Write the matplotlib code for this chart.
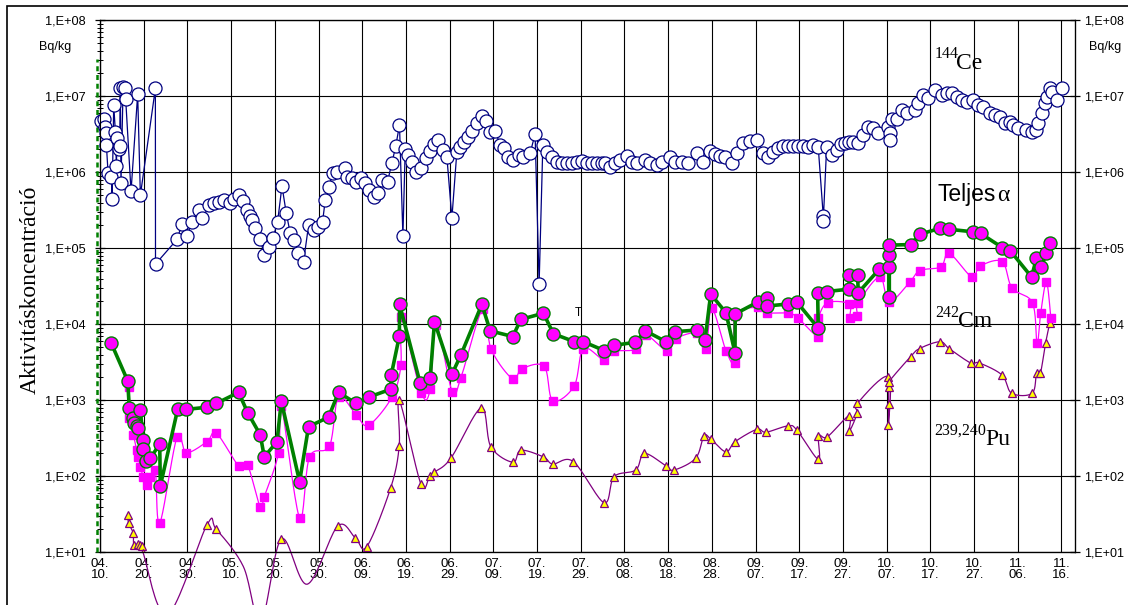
import numpy as np
import matplotlib
matplotlib.use("Agg")
import matplotlib.pyplot as plt
from matplotlib.ticker import FixedLocator, FixedFormatter, LogLocator, NullFormatter, NullLocator
from matplotlib.patches import Rectangle

# ---------------- data (days since 04.10, Bq/kg) ----------------
ce_day = [0.32, 0.85, 1.08, 1.30, 1.46, 1.85, 2.60, 2.77, 3.14, 3.52, 3.75, 3.90, 4.28, 4.50,
          4.66, 4.80, 5.29, 5.81, 5.88, 7.10, 8.62, 9.24, 12.67, 12.70,
          17.63, 18.77, 19.92, 21.06, 22.57, 23.35, 24.86, 26.0, 27.14, 28.29, 29.82, 30.57,
          31.72, 32.72, 33.64, 34.39, 34.78, 35.54, 36.68, 37.59, 38.58, 39.58, 40.64, 41.64,
          42.62, 43.54, 44.45, 45.21, 46.58, 47.72, 48.87, 49.78, 50.93, 51.54, 52.46, 53.21,
          54.22, 56.12, 56.5, 57.65, 58.63, 59.71, 60.69, 61.45, 62.59, 63.5, 64.51, 65.79,
          66.8, 67.67, 68.53, 69.31, 69.84, 70.59, 71.37, 72.35, 73.5, 74.57, 75.55, 76.47,
          77.45, 78.46, 79.37, 80.52, 81.66, 82.42, 83.33, 84.31, 85.23, 86.23, 87.38, 88.29,
          89.28, 90.42, 91.56, 92.48, 93.46, 94.6, 95.9, 96.89, 98.42, 99.56, 100.48, 101.33,
          102.24, 103.38, 104.53, 105.67, 106.81, 107.96, 109.1, 110.24, 111.39, 112.53,
          113.67, 114.82, 115.57, 116.71, 117.86, 119.0, 120.53, 121.68, 122.82, 124.72,
          125.86, 127.39, 128.54, 130.44, 131.58, 133.11, 134.62, 136.54, 138.05, 139.58,
          140.73, 141.87, 143.02, 144.55, 145.69, 147.2, 148.73, 150.4, 151.77, 152.91,
          154.06, 155.2, 156.35, 157.49, 158.63, 159.78, 160.92, 162.06, 163.21, 164.35,
          165.49, 165.5, 166.27, 167.41, 168.56, 169.54, 170.45, 171.44, 172.35, 173.5,
          174.64, 175.78, 176.93, 178.07, 180.35, 180.74, 180.75, 181.13, 182.28, 183.42,
          184.56, 186.46, 187.22, 188.36, 189.51, 191.04, 192.57, 193.71, 194.86, 196.0,
          197.14, 198.29, 199.8, 200.94, 202.08, 203.62, 204.76, 205.9, 207.05, 208.19,
          208.94, 210.09, 212.0, 213.15, 214.29, 214.66, 215.44, 216.2, 216.59, 217.34,
          217.73, 218.87, 220.02]
ce_val = [4.8e6, 5.1e6, 4.0e6, 3.3e6, 2.3e6, 9.7e5, 8.8e5, 4.5e5, 7.7e6, 3.4e6, 1.2e6, 2.8e6, 2.0e6, 2.2e6,
          1.27e7, 7.2e5, 1.31e7, 1.27e7, 9.1e6, 5.6e5, 1.06e7, 5.0e5, 1.27e7, 6.2e4,
          1.31e5, 2.1e5, 1.47e5, 2.24e5, 3.2e5, 2.5e5, 3.7e5, 3.9e5, 4.1e5, 4.3e5, 4.0e5, 4.5e5,
          5.0e5, 4.2e5, 3.2e5, 2.7e5, 2.36e5, 1.83e5, 1.31e5, 8.2e4, 1.05e5, 1.36e5, 2.24e5, 6.6e5,
          2.9e5, 1.57e5, 1.29e5, 8.6e4, 6.7e4, 2.0e5, 1.74e5, 1.92e5, 2.24e5, 4.3e5, 6.5e5, 9.9e5,
          1.02e6, 1.13e6, 8.8e5, 8.3e5, 7.5e5, 8.3e5, 7.2e5, 5.8e5, 4.8e5, 5.3e5, 7.9e5, 7.5e5,
          1.34e6, 2.2e6, 4.2e6, 1.45e5, 2.0e6, 1.7e6, 1.38e6, 1.02e6, 1.13e6, 1.53e6, 1.92e6, 2.36e6,
          2.7e6, 1.96e6, 1.6e6, 2.5e5, 1.87e6, 2.17e6, 2.53e6, 2.94e6, 3.5e6, 4.5e6, 5.5e6, 4.8e6,
          3.4e6, 3.5e6, 2.3e6, 2.07e6, 1.6e6, 1.45e6, 1.69e6, 1.6e6, 1.78e6, 3.2e6, 3.4e4, 2.3e6,
          1.87e6, 1.57e6, 1.38e6, 1.31e6, 1.31e6, 1.34e6, 1.38e6, 1.42e6, 1.34e6, 1.31e6,
          1.34e6, 1.34e6, 1.31e6, 1.19e6, 1.31e6, 1.45e6, 1.64e6, 1.38e6, 1.31e6, 1.45e6,
          1.31e6, 1.25e6, 1.38e6, 1.57e6, 1.38e6, 1.38e6, 1.34e6, 1.78e6, 1.38e6, 1.92e6,
          1.74e6, 1.64e6, 1.57e6, 1.34e6, 1.81e6, 2.41e6, 2.6e6, 2.7e6, 1.78e6, 1.57e6,
          1.87e6, 2.07e6, 2.2e6, 2.2e6, 2.2e6, 2.2e6, 2.2e6, 2.13e6, 2.3e6, 2.13e6,
          2.7e5, 2.3e5, 2.17e6, 1.69e6, 1.96e6, 2.36e6, 2.45e6, 2.53e6, 2.5e6, 2.41e6,
          3.1e6, 3.9e6, 3.8e6, 3.26e6, 4.0e6, 3.26e6, 2.7e6, 5.1e6, 5.1e6, 6.6e6,
          6.0e6, 6.6e6, 8.1e6, 1.04e7, 9.4e6, 1.21e7, 1.04e7, 1.09e7, 1.09e7, 9.9e6,
          8.9e6, 8.5e6, 8.9e6, 7.7e6, 7.3e6, 6.0e6, 5.7e6, 5.4e6, 4.4e6, 4.6e6,
          4.2e6, 3.8e6, 3.6e6, 3.4e6, 3.6e6, 4.4e6, 6.0e6, 8.1e6, 9.9e6, 1.27e7,
          1.15e7, 8.9e6, 1.27e7]

alpha_day = [2.54, 6.34, 6.7, 7.48, 7.87, 8.4, 8.71, 9.24, 9.86, 9.95, 10.61, 11.53, 13.66, 13.81,
             17.77, 19.76, 24.49, 26.62, 31.72, 33.78, 36.68, 37.59, 40.5, 41.49, 45.67, 47.72,
             52.3, 54.58, 58.63, 61.45, 66.57, 66.64, 68.5, 68.55, 73.27, 75.55, 76.54, 80.52,
             82.58, 87.38, 89.28, 94.46, 96.29, 101.47, 103.75, 108.56, 110.61, 115.41, 117.7,
             122.5, 124.79, 129.52, 131.58, 136.54, 138.44, 139.74, 143.24, 145.3, 145.35,
             150.63, 152.55, 152.6, 157.49, 159.4, 164.35, 164.21, 166.27, 171.44, 171.45,
             173.36, 173.5, 178.3, 180.58, 180.6, 180.62, 180.65, 185.48, 187.6, 192.18,
             194.3, 199.65, 201.48, 206.5, 208.34, 213.15, 214.29, 215.43, 216.42, 217.34]
alpha_val = [5.7e3, 1.8e3, 8.0e2, 5.8e2, 5.1e2, 4.6e2, 4.3e2, 7.4e2, 3.0e2, 2.3e2, 1.6e2, 1.73e2, 2.66e2, 7.5e1,
             7.6e2, 7.6e2, 8.1e2, 9.1e2, 1.27e3, 6.9e2, 3.5e2, 1.8e2, 2.85e2, 9.8e2, 8.5e1, 4.5e2,
             6.0e2, 1.27e3, 9.1e2, 1.1e3, 1.4e3, 2.15e3, 7.0e3, 1.83e4, 1.67e3, 1.95e3, 1.08e4, 2.2e3,
             3.95e3, 1.83e4, 8.2e3, 6.9e3, 1.16e4, 1.4e4, 7.5e3, 5.9e3, 5.9e3, 4.5e3, 5.3e3,
             5.8e3, 8.2e3, 5.9e3, 8.0e3, 8.4e3, 6.2e3, 2.5e4, 1.42e4, 4.2e3, 1.37e4,
             1.98e4, 2.2e4, 1.74e4, 1.85e4, 1.98e4, 8.9e3, 2.6e4, 2.7e4, 2.9e4, 4.4e4,
             4.4e4, 2.6e4, 5.3e4, 5.7e4, 2.3e4, 8.2e4, 1.1e5, 1.12e5, 1.53e5, 1.83e5,
             1.78e5, 1.65e5, 1.57e5, 1.02e5, 9.2e4, 4.2e4, 7.4e4, 5.6e4, 8.6e4, 1.16e5]

cm_day = [6.6, 6.75, 7.64, 8.41, 8.71, 9.24, 9.86, 10.77, 11.53, 12.67, 13.66, 17.63, 19.76,
          24.49, 26.62, 31.72, 33.78, 36.68, 37.59, 40.87, 41.49, 45.67, 47.95, 52.5, 54.58,
          58.63, 61.45, 66.8, 68.85, 68.9, 73.5, 75.55, 76.93, 80.59, 82.58, 87.6, 89.5, 94.46,
          96.52, 101.63, 103.6, 108.5, 110.61, 115.34, 117.63, 122.66, 124.94, 129.68, 131.81,
          136.54, 138.67, 139.97, 143.24, 145.3, 145.35, 150.63, 152.55, 157.49, 159.62,
          164.35, 164.4, 166.48, 171.44, 171.6, 173.27, 173.5, 178.4, 180.58, 185.3, 187.6,
          192.4, 194.3, 199.57, 201.3, 206.4, 208.7, 213.37, 214.42, 215.27, 216.57, 217.57]
cm_val = [1.5e3, 5.8e2, 3.5e2, 2.2e2, 1.8e2, 1.34e2, 9.9e1, 7.7e1, 9.9e1, 1.2e2, 2.4e1, 3.3e2, 2.05e2,
          2.85e2, 3.7e2, 1.37e2, 1.4e2, 3.9e1, 5.4e1, 2.05e2, 8.4e2, 2.85e1, 1.8e2, 2.5e2, 1.1e3,
          6.4e2, 4.7e2, 1.1e3, 2.9e3, 1.26e4, 1.26e3, 1.4e3, 9.8e3, 1.3e3, 1.98e3, 1.6e4, 4.7e3, 1.9e3,
          2.6e3, 2.8e3, 9.9e2, 1.54e3, 4.8e3, 3.4e3, 4.4e3, 4.7e3, 7.2e3, 4.5e3, 6.5e3,
          7.6e3, 4.8e3, 1.63e4, 4.5e3, 3.1e3, 1.3e4, 1.67e4, 1.42e4, 1.4e4, 1.22e4,
          6.9e3, 1.2e4, 1.92e4, 1.85e4, 1.2e4, 1.29e4, 1.9e4, 4.2e4, 1.98e4, 3.6e4, 5.1e4,
          5.7e4, 8.6e4, 4.15e4, 5.8e4, 6.7e4, 3.0e4, 1.92e4, 5.6e3, 1.42e4, 3.6e4, 1.22e4]

pu_day = [6.34, 6.56, 7.57, 7.73, 8.62, 9.08, 9.63, 9.86, 15.4, 24.49, 26.62, 32.8, 36.8, 41.49,
          47.4, 54.35, 58.4, 61.07, 66.5, 68.47, 68.5, 73.43, 75.4, 76.47, 80.29, 87.2, 89.43,
          94.46, 96.29, 101.47, 103.6, 108.33, 115.34, 117.63, 122.59, 124.56, 129.45, 131.35,
          136.3, 138.2, 139.74, 143.2, 145.3, 150.3, 152.4, 157.36, 159.4, 164.35, 164.4, 166.4,
          171.44, 171.5, 173.27, 173.3, 180.35, 180.4, 180.45, 180.5, 180.55, 185.48, 187.55,
          192.18, 194.3, 199.2, 201.2, 206.4, 208.6, 213.3, 214.3, 215.2, 216.35, 217.34]
pu_val = [3.1e1, 2.4e1, 1.8e1, 1.25e1, 1.3e1, 1.25e1, 1.22e1, 9.9, 1.5, 2.3e1, 2.0e1, 6.5, 1.2, 1.5e1,
          3.8, 2.2e1, 1.56e1, 1.19e1, 7.0e1, 2.5e2, 1.0e3, 7.9e1, 1.0e2, 1.13e2, 1.73e2, 7.9e2, 2.45e2,
          1.53e2, 2.2e2, 1.8e2, 1.45e2, 1.56e2, 4.5e1, 9.9e1, 1.21e2, 2.0e2, 1.38e2, 1.21e2,
          1.73e2, 3.4e2, 3.1e2, 2.1e2, 2.85e2, 4.15e2, 3.8e2, 4.6e2, 4.1e2, 1.67e2, 3.4e2, 3.3e2,
          6.3e2, 4.0e2, 6.8e2, 9.1e2, 2.05e3, 4.7e2, 8.9e2, 1.5e3, 1.76e3, 3.75e3, 4.8e3,
          5.9e3, 4.8e3, 3.1e3, 3.1e3, 2.15e3, 1.24e3, 1.24e3, 2.3e3, 2.3e3, 5.6e3, 1.05e4]

x_tick_labels = ["04.\n10.", "04.\n20.", "04.\n30.", "05.\n10.", "05.\n20.", "05.\n30.",
                 "06.\n09.", "06.\n19.", "06.\n29.", "07.\n09.", "07.\n19.", "07.\n29.",
                 "08.\n08.", "08.\n18.", "08.\n28.", "09.\n07.", "09.\n17.", "09.\n27.",
                 "10.\n07.", "10.\n17.", "10.\n27.", "11.\n06.", "11.\n16."]
y_tick_labels = ["1,E+01", "1,E+02", "1,E+03", "1,E+04", "1,E+05", "1,E+06", "1,E+07", "1,E+08"]


def smooth(xs, vals, n=20):
    """Excel-like smoothed line (Catmull-Rom Bezier) in (x, log10 y) space."""
    x = np.asarray(xs, float)
    y = np.log10(np.asarray(vals, float))
    px = np.concatenate([[x[0]], x, [x[-1]]])
    py = np.concatenate([[y[0]], y, [y[-1]]])
    outx, outy = [], []
    t = np.linspace(0, 1, n)
    for i in range(1, len(px) - 2):
        p0x, p1x, p2x, p3x = px[i - 1], px[i], px[i + 1], px[i + 2]
        p0y, p1y, p2y, p3y = py[i - 1], py[i], py[i + 1], py[i + 2]
        b1x, b1y = p1x + (p2x - p0x) / 6, p1y + (p2y - p0y) / 6
        b2x, b2y = p2x - (p3x - p1x) / 6, p2y - (p3y - p1y) / 6
        bx = (1 - t) ** 3 * p1x + 3 * (1 - t) ** 2 * t * b1x + 3 * (1 - t) * t ** 2 * b2x + t ** 3 * p2x
        by = (1 - t) ** 3 * p1y + 3 * (1 - t) ** 2 * t * b1y + 3 * (1 - t) * t ** 2 * b2y + t ** 3 * p2y
        outx.extend(bx)
        outy.extend(by)
    return np.array(outx), 10 ** np.array(outy)


W, H = 1128, 605
fig = plt.figure(figsize=(W / 100, H / 100), dpi=100)
ax = fig.add_axes([100 / W, 1 - 552.3 / H, 975 / W, 532 / H])

NAVY = "#000080"
GREEN = "#008000"
MAG = "#FF00FF"
PURP = "#800080"
YEL = "#FFFF00"

ax.set_yscale("log")
ax.set_ylim(10, 1e8)
ax.set_xlim(0, 223.1)

# Ce-144
ax.plot(ce_day, ce_val, "-", color=NAVY, lw=0.9, marker="o", ms=9.4, mfc="white",
        mec=NAVY, mew=0.9, zorder=3, clip_on=False)

# Pu-239,240 (smoothed line allowed to run past the plot area, markers clipped)
sx, sy = smooth(pu_day, pu_val)
ax.plot(sx, sy, color=PURP, lw=0.9, zorder=4, clip_on=False)
ax.plot(pu_day, pu_val, ls="none", marker="^", ms=5.5, mfc=YEL, mec=PURP, mew=0.9, zorder=5)

# Cm-242
sx, sy = smooth(cm_day, cm_val)
ax.plot(sx, sy, color=MAG, lw=0.9, zorder=6)
ax.plot(cm_day, cm_val, ls="none", marker="s", ms=5.5, mfc=MAG, mec=MAG, zorder=6)

# Total alpha
ax.plot(alpha_day, alpha_val, "-", color=GREEN, lw=2.6, marker="o", ms=9.4, mfc=MAG,
        mec=GREEN, mew=1.0, zorder=7)

# axes styling
ax.grid(True, which="major", color="black", lw=0.8)
ax.set_axisbelow(True)
for s in ax.spines.values():
    s.set_linewidth(0.9)

ax.xaxis.set_major_locator(FixedLocator(np.arange(0, 221, 10)))
ax.xaxis.set_major_formatter(FixedFormatter(x_tick_labels))
ax.tick_params(axis="x", length=0, pad=4, labelsize=9.5)
for lab in ax.get_xticklabels():
    lab.set_fontfamily("Liberation Sans")
    lab.set_linespacing(0.95)

yt = [10.0 ** k for k in range(1, 9)]
ax.yaxis.set_major_locator(FixedLocator(yt))
ax.yaxis.set_major_formatter(FixedFormatter(y_tick_labels))
ax.yaxis.set_minor_locator(LogLocator(base=10, subs=np.arange(2, 10), numticks=20))
ax.yaxis.set_minor_formatter(NullFormatter())
ax.tick_params(axis="y", which="major", direction="inout", length=7, width=0.9, pad=7, labelsize=9.2)
ax.tick_params(axis="y", which="minor", direction="inout", length=4, width=0.7)
for lab in ax.get_yticklabels():
    lab.set_fontfamily("Liberation Sans")

ax2 = ax.twinx()
ax2.set_yscale("log")
ax2.set_ylim(10, 1e8)
ax2.yaxis.set_major_locator(FixedLocator(yt))
ax2.yaxis.set_major_formatter(FixedFormatter(y_tick_labels))
ax2.yaxis.set_minor_locator(NullLocator())
ax2.tick_params(axis="y", which="major", direction="inout", length=7, width=0.9, pad=3, labelsize=9.0)
for lab in ax2.get_yticklabels():
    lab.set_fontfamily("Liberation Sans")

# stray dashed green line at the left edge
ax.plot([-0.0026, -0.0026], [0.0, 0.928], transform=ax.transAxes, color=GREEN,
        ls=(0, (2, 1.5)), lw=1.8, clip_on=False, zorder=2)

# texts
SERIF = "Liberation Serif"
fig.text(30 / W, 1 - 290 / H, "Aktivitáskoncentráció", rotation=90, ha="center", va="center",
         fontsize=17, family=SERIF)
fig.text(55 / W, 1 - 47 / H, "Bq/kg", ha="center", va="center", fontsize=9, family="Liberation Sans")
fig.text(1105 / W, 1 - 47 / H, "Bq/kg", ha="center", va="center", fontsize=9, family="Liberation Sans")


def label(xsup, ysup, sup, xmain, ymain, main):
    fig.text(xsup / W, 1 - ysup / H, sup, ha="left", va="baseline", fontsize=11.5, family=SERIF)
    fig.text(xmain / W, 1 - ymain / H, main, ha="left", va="baseline", fontsize=17, family=SERIF)


label(935, 58, "144", 956, 69, "Ce")
label(935, 317, "242", 958, 327, "Cm")
label(934, 435, "239,240", 985, 445, "Pu")

fig.text(937 / W, 1 - 201 / H, "Teljes", ha="left", va="baseline", fontsize=16.5,
         family="Liberation Sans")
fig.text(997 / W, 1 - 201 / H, "α", ha="left", va="baseline", fontsize=17, family=SERIF)
fig.text(578 / W, 1 - 313 / H, "T", ha="center", va="center", fontsize=8.5, family="Liberation Sans")

# outer frame
fig.patches.append(Rectangle((7 / W, -0.1), 1.2, 1.1 - 6 / H, transform=fig.transFigure,
                             fill=False, ec="black", lw=1.2))

fig.savefig("out.png", dpi=100)
